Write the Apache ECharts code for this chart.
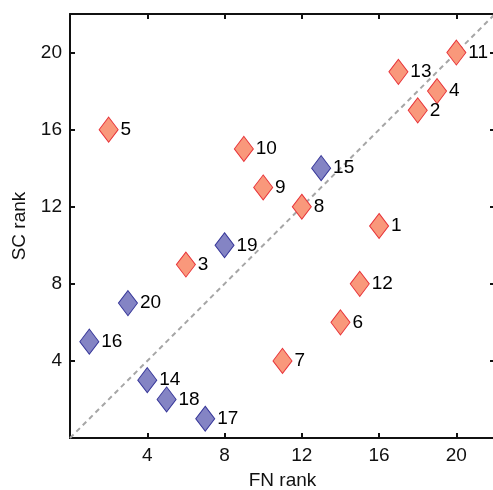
<!DOCTYPE html>
<html>
<head>
<meta charset="utf-8">
<script src="https://cdn.jsdelivr.net/npm/echarts@6/dist/echarts.min.js"></script>
<style>
  html, body { margin: 0; padding: 0; background: #fff; }
  #main { width: 493px; height: 490px; }
</style>
</head>
<body>
<div id="main"></div>
<script>
// red group (FN rank, SC rank, label)
var redIds = [11, 13, 4, 2, 5, 10, 9, 8, 1, 3, 12, 6, 7];
var redFN  = [20, 17, 19, 18, 2, 9, 10, 12, 16, 6, 15, 14, 11];
var redSC  = [20, 19, 18, 17, 16, 15, 13, 12, 11, 9, 8, 6, 4];
// blue group
var blueIds = [15, 19, 20, 16, 14, 18, 17];
var blueFN  = [13, 8, 3, 1, 4, 5, 7];
var blueSC  = [14, 10, 7, 5, 3, 2, 1];
var tickVals = [4, 8, 12, 16, 20];

var myChart = echarts.init(document.getElementById('main'));

function pts(xs, ys, ids) {
    return xs.map(function (x, i) { return { value: [x, ys[i]], name: String(ids[i]) }; });
}

var txt = '#111';
var font = 'Liberation Sans, Arial, Helvetica, sans-serif';

function axisBase(pos, showLabel) {
    return {
        type: 'value',
        position: pos,
        min: 0,
        max: 22,
        interval: 4,
        axisLine: { show: true, onZero: false, lineStyle: { color: txt, width: 2 } },
        axisTick: { show: true, inside: true, length: 5, lineStyle: { color: txt, width: 2 } },
        axisLabel: {
            show: showLabel,
            color: txt,
            fontSize: 19,
            fontFamily: font,
            margin: 8,
            formatter: function (v) { return tickVals.indexOf(v) >= 0 ? String(v) : ''; }
        },
        splitLine: { show: false }
    };
}

var xBottom = axisBase('bottom', true);
xBottom.name = 'FN rank';
xBottom.nameLocation = 'middle';
xBottom.nameGap = 33;
xBottom.nameTextStyle = { color: txt, fontSize: 19, fontFamily: font };
var xTop = axisBase('top', false);
var yLeft = axisBase('left', true);
yLeft.name = 'SC rank';
yLeft.nameLocation = 'middle';
yLeft.nameGap = 41;
yLeft.nameTextStyle = { color: txt, fontSize: 19, fontFamily: font };
var yRight = axisBase('right', false);

var labelOpt = {
    show: true,
    position: 'right',
    distance: 2,
    formatter: '{b}',
    color: '#000',
    textBorderWidth: 0,
    fontSize: 19,
    fontFamily: font
};

option = {
    animation: false,
    grid: { left: 70, top: 14, width: 425, height: 424, containLabel: false, outerBoundsMode: 'none' },
    xAxis: [xBottom, xTop],
    yAxis: [yLeft, yRight],
    series: [
        {
            type: 'line',
            data: [[0, 0], [22, 22]],
            symbol: 'none',
            lineStyle: { color: '#a6a6a6', width: 2, type: [5, 4] },
            z: 1,
            silent: true
        },
        {
            type: 'scatter',
            data: pts(blueFN, blueSC, blueIds),
            symbol: 'diamond',
            symbolSize: [19, 25],
            itemStyle: { color: '#8484c4', borderColor: '#38389a', borderWidth: 1, opacity: 1 },
            label: labelOpt,
            z: 3
        },
        {
            type: 'scatter',
            data: pts(redFN, redSC, redIds),
            symbol: 'diamond',
            symbolSize: [19, 25],
            itemStyle: { color: '#f9987b', borderColor: '#e8343a', borderWidth: 1, opacity: 1 },
            label: labelOpt,
            z: 3
        }
    ]
};

myChart.setOption(option);
</script>
</body>
</html>
